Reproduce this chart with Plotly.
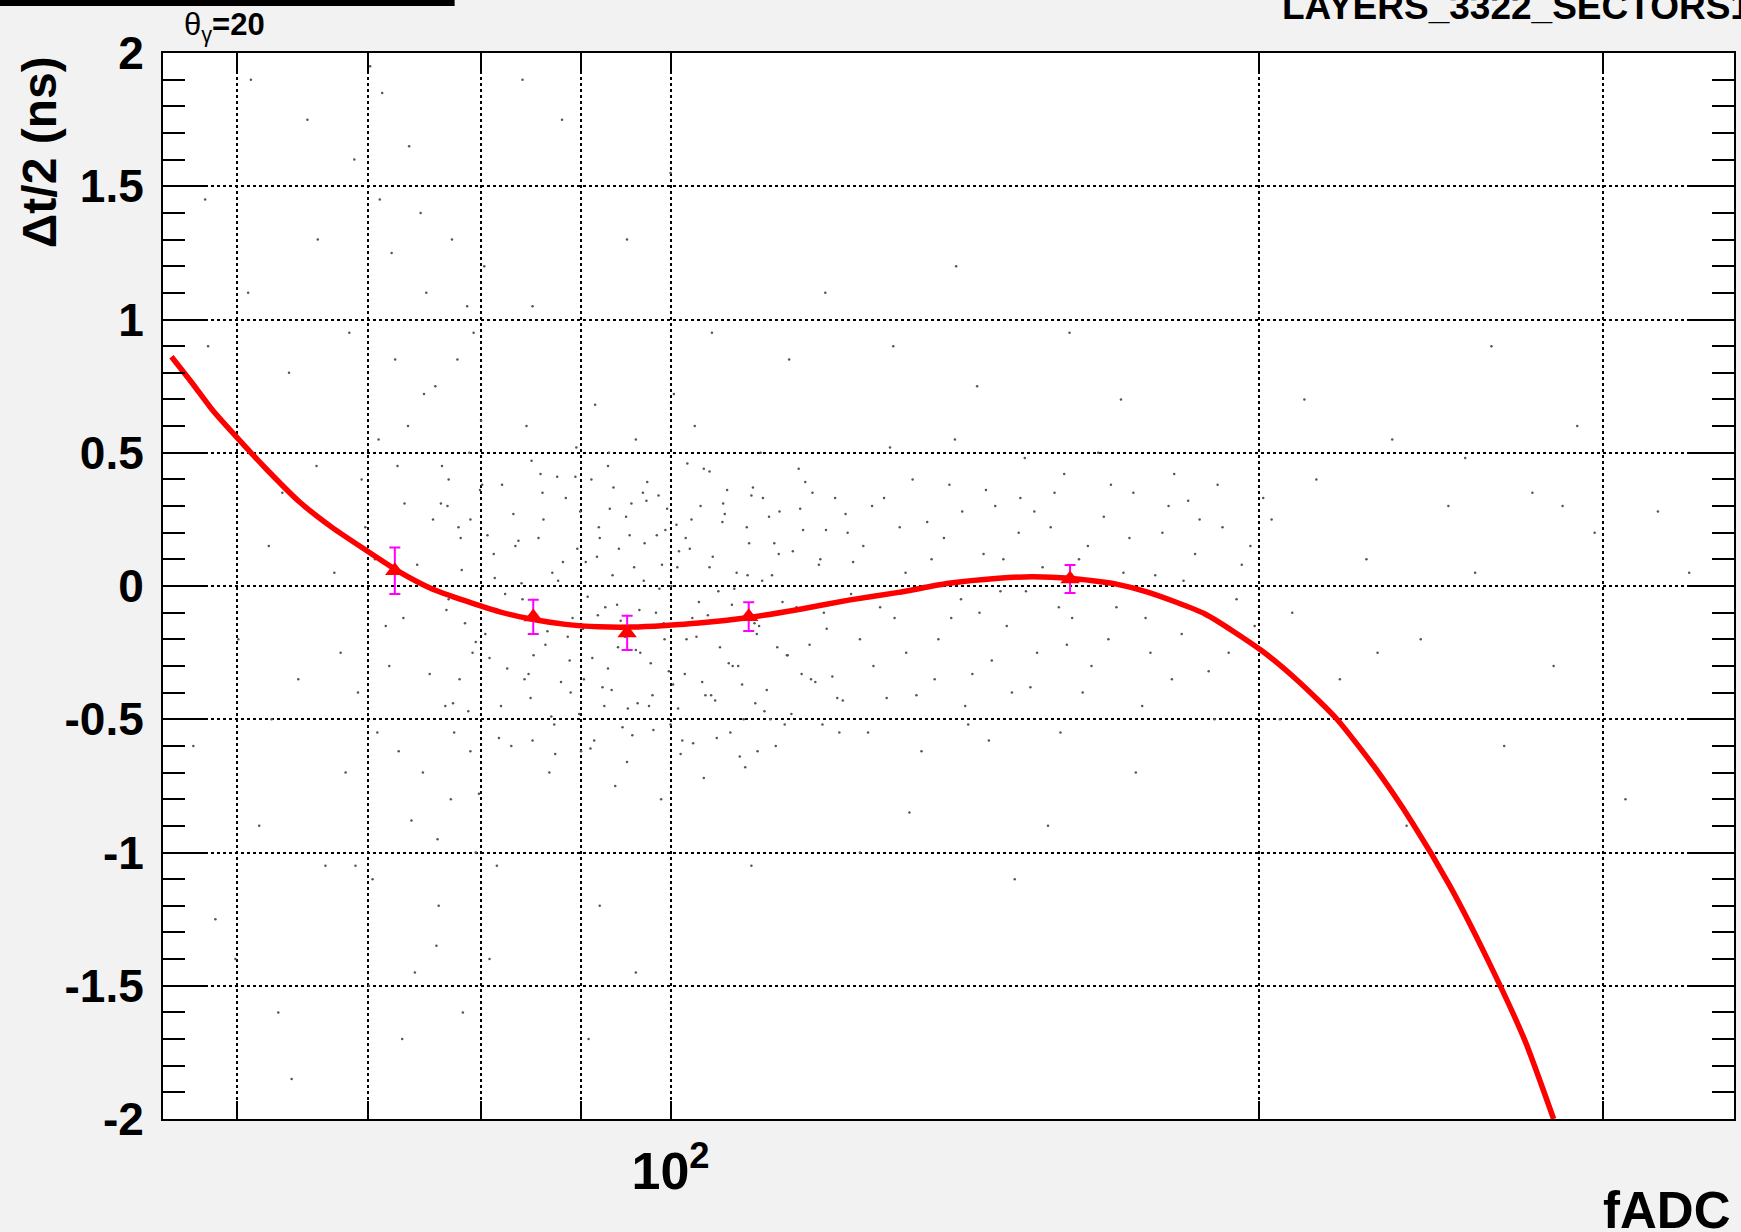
import plotly.graph_objects as go
import math

W, H = 1741, 1232
ML, MR, MT, MB = 163, 5, 53, 113

# ---- data ----
fit_x = [55.55, 56.94, 58.30, 60.16, 62.08, 64.56, 67.14, 69.83, 72.62, 75.52, 78.56,
         81.70, 84.97, 88.37, 91.91, 95.58, 99.41, 103.39, 109.65, 116.31, 123.35,
         130.83, 138.76, 147.17, 153.05, 160.14, 168.85, 175.6, 187.7, 200.6, 209.7,
         219.2, 229.2, 239.6, 250.4, 261.8, 273.6, 283.0]
fit_y = [0.860, 0.760, 0.660, 0.548, 0.441, 0.317, 0.219, 0.135, 0.054, -0.011, -0.056,
         -0.096, -0.125, -0.144, -0.153, -0.154, -0.148, -0.139, -0.118, -0.088, -0.053,
         -0.024, 0.010, 0.029, 0.035, 0.029, 0.008, -0.024, -0.105, -0.242, -0.360,
         -0.499, -0.680, -0.888, -1.124, -1.401, -1.706, -2.000]

pt_x = [72.27, 85.07, 95.02, 109.65, 160.1]
pt_y = [0.057, -0.116, -0.176, -0.115, 0.026]
pt_err = [0.087, 0.064, 0.064, 0.054, 0.0525]

dots = [
    (81.2, 0.12), (82.5, -0.31), (83.1, 0.27), (84.0, -0.05), (84.8, -0.42), (85.6, 0.18),
    (86.3, -0.22), (87.0, 0.05), (87.9, -0.36), (88.4, 0.33), (89.1, -0.12), (89.8, -0.48),
    (90.5, 0.09), (91.2, -0.27), (91.9, 0.22), (92.6, -0.08), (93.3, -0.39), (94.1, 0.14),
    (94.8, -0.19), (95.5, 0.31), (96.2, -0.44), (96.9, 0.02), (97.7, -0.29), (98.4, 0.19),
    (99.2, -0.14), (100.0, -0.52), (100.8, 0.07), (101.7, -0.33), (102.5, 0.25), (103.4, -0.06),
    (104.2, -0.41), (105.1, 0.11), (106.0, -0.23), (106.9, 0.36), (107.8, -0.01), (108.8, -0.37),
    (109.7, 0.16), (110.7, -0.18), (111.7, -0.47), (112.7, 0.04), (113.7, 0.28), (114.8, -0.26),
    (115.8, -0.09), (116.9, 0.21), (118.0, -0.35), (119.1, 0.08), (120.2, -0.16), (121.4, 0.33),
    (122.5, -0.43), (123.7, -0.03), (80.4, -0.18), (82.0, 0.38), (85.0, -0.58), (87.5, 0.41),
    (90.0, -0.62), (92.9, 0.45), (95.0, -0.66), (97.3, 0.39), (99.6, 0.29), (101.2, -0.63),
    (104.7, 0.43), (107.3, -0.55), (110.2, 0.37), (113.2, -0.60), (116.3, 0.44), (119.6, -0.52),
    (122.9, 0.27), (86.7, -0.70), (93.7, -0.75), (98.9, -0.80), (104.0, -0.72), (109.2, -0.68),
    (89.5, 0.52), (96.0, 0.55), (102.9, 0.60), (111.2, 0.50), (84.4, 0.60), (91.5, 0.68),
    (100.4, 0.72),
    (76.3, 0.31), (77.4, -0.44), (78.2, 0.06), (79.5, -0.21), (80.1, 0.38), (81.7, -0.57),
    (82.3, -0.03), (83.6, 0.17), (84.2, -0.35), (85.3, -0.12), (86.1, 0.25), (86.9, -0.49),
    (87.6, 0.02), (88.8, -0.28), (89.4, 0.41), (90.2, -0.16), (91.0, -0.61), (91.7, 0.11),
    (92.3, -0.38), (93.1, 0.29), (93.9, -0.07), (94.5, -0.53), (95.3, 0.19), (96.0, -0.24),
    (96.8, 0.35), (97.5, -0.45), (98.3, -0.10), (99.0, 0.08), (99.8, -0.32), (100.7, 0.23),
    (101.4, -0.58), (102.3, 0.14), (103.1, -0.19), (104.0, 0.44), (104.9, -0.41), (105.8, -0.02),
    (106.6, 0.27), (107.6, -0.30), (108.5, -0.64), (109.5, 0.04), (110.4, -0.14), (111.5, 0.33),
    (112.5, -0.50), (113.6, 0.12), (114.7, -0.26), (116.0, -0.08), (117.2, 0.39), (118.6, -0.36),
    (120.1, 0.21), (122.0, -0.55),
    (76.8, -0.09), (77.9, 0.22), (78.8, -0.47), (79.9, 0.36), (80.8, -0.27), (81.3, 0.03),
    (82.9, -0.60), (83.3, 0.15), (84.6, -0.33), (85.8, 0.42), (86.5, -0.17), (87.2, -0.52),
    (88.1, 0.09), (88.9, -0.40), (89.9, 0.28), (90.7, -0.04), (91.4, -0.58), (92.0, 0.18),
    (92.9, -0.31), (93.5, 0.37), (94.3, -0.13), (95.1, -0.46), (95.8, 0.07), (96.5, -0.25),
    (97.2, 0.32), (98.0, -0.54), (98.7, -0.01), (99.4, 0.21), (100.3, -0.37), (101.0, 0.13),
    (101.9, -0.20), (102.7, -0.59), (103.6, 0.30), (104.5, -0.11), (105.4, -0.43), (106.3, 0.24),
    (107.1, -0.29), (108.1, 0.05), (109.0, -0.50), (110.0, 0.34), (111.0, -0.15), (112.0, -0.39),
    (113.0, 0.16), (114.1, -0.06), (115.3, -0.48), (116.5, 0.29), (117.8, -0.22), (119.3, 0.10),
    (121.0, -0.34), (123.2, 0.20),
    (77.0, 0.40), (78.5, -0.14), (80.6, 0.19), (81.9, -0.45), (83.9, 0.01), (85.1, -0.26),
    (86.0, 0.35), (87.3, -0.63), (88.6, -0.19), (89.6, 0.14), (90.3, -0.35), (91.1, 0.40),
    (91.8, -0.11), (92.5, -0.45), (93.4, 0.04), (94.0, -0.23), (94.9, 0.26), (95.6, -0.56),
    (96.4, -0.09), (97.0, 0.16), (97.9, -0.41), (98.6, 0.34), (99.3, -0.20), (100.1, 0.00),
    (100.9, -0.46), (101.8, 0.18), (102.6, -0.12), (103.8, -0.36), (104.7, 0.07), (105.6, -0.57),
    (106.4, 0.31), (107.5, -0.07), (108.3, -0.30), (109.4, 0.22), (110.5, -0.44), (111.4, 0.02),
    (112.3, 0.26), (113.4, -0.23), (114.4, -0.52), (115.5, 0.13), (116.7, -0.33), (118.2, 0.35),
    (119.8, -0.10), (121.7, -0.42), (124.0, 0.09), (79.0, -0.62), (84.9, 0.47), (93.0, 0.50),
    (102.0, 0.46), (110.8, -0.62),
    (68.5, 0.95), (69.2, -0.40), (69.8, 0.22), (70.4, -1.10), (70.9, 0.55), (71.5, -0.15),
    (72.0, 1.25), (72.6, -0.62), (73.1, 0.31), (73.7, -0.88), (74.2, 0.08), (74.8, 0.72),
    (75.3, -0.33), (75.9, -1.35), (76.4, 0.45), (77.0, -0.05), (77.5, -0.55), (78.1, 0.18),
    (78.7, 1.05), (79.2, -0.25), (79.8, -0.78), (68.9, 1.60), (70.1, -1.50), (71.2, 1.85),
    (72.9, -1.70), (74.5, 1.40), (76.1, -1.20), (77.8, 0.85), (79.5, -1.00), (69.5, 0.40),
    (71.8, -0.30), (73.4, 0.60), (75.6, 0.25), (77.2, -0.80), (78.9, 0.50), (68.2, -0.70),
    (70.6, 0.10), (73.0, -0.12), (76.7, -0.45), (80.0, 0.62),
    (70.2, 1.95), (71.0, 1.45), (72.3, 0.85), (73.5, 1.65), (74.0, -1.45), (75.0, 1.10),
    (76.0, -0.95), (77.3, 1.30), (78.3, -1.60), (79.3, 0.95), (69.0, -1.05), (70.8, -0.55),
    (72.5, 0.45), (74.7, -0.70), (75.8, 0.75), (76.9, 0.30), (78.0, -0.35), (79.0, 0.25),
    (80.3, 1.20), (81.5, -1.05),
    (56.2, 0.30), (57.0, -0.60), (57.8, 1.45), (58.5, -1.25), (59.3, 0.60), (60.1, -0.20),
    (60.8, 1.10), (61.6, -0.90), (62.3, 0.15), (63.0, -1.60), (63.8, 0.80), (64.5, -0.35),
    (65.2, 1.75), (65.9, 0.45), (66.6, -1.05), (67.3, 0.05), (58.0, 0.90), (61.0, 1.90),
    (64.0, -1.85), (66.0, 1.30), (62.5, -0.50), (59.9, -1.40), (67.8, -0.25), (63.3, 0.35),
    (125.5, 0.15), (127.0, -0.30), (128.6, 0.33), (130.2, -0.12), (131.9, 0.05), (133.6, -0.41),
    (135.3, 0.24), (137.1, -0.20), (138.9, 0.38), (140.8, -0.05), (142.7, -0.33), (144.6, 0.12),
    (146.6, 0.30), (148.6, -0.15), (150.7, 0.20), (152.8, -0.38), (155.0, 0.07), (157.2, 0.35),
    (159.5, -0.22), (161.8, 0.10), (164.2, -0.30), (166.6, 0.26), (169.1, -0.08), (171.7, 0.18),
    (174.3, -0.45), (177.0, 0.04), (179.8, 0.30), (182.6, -0.18), (185.5, 0.12), (188.5, -0.32),
    (191.6, 0.22), (194.8, -0.05), (198.0, 0.15), (126.2, -0.55), (129.5, 0.52), (134.4, -0.62),
    (139.8, 0.55), (145.5, -0.58), (151.8, 0.48), (158.3, -0.55), (165.5, 0.50), (173.0, -0.70),
    (181.0, 0.42), (189.8, -0.50), (132.5, -0.85), (143.5, 0.75), (156.0, -0.90), (170.0, 0.70),
    (136.0, 0.10), (141.5, -0.45), (147.5, -0.02), (153.5, 0.28), (160.5, -0.12), (168.0, 0.38),
    (176.0, -0.25), (184.0, 0.32),
    (125.0, -0.20), (126.8, 0.30), (128.0, -0.08), (129.0, -0.42), (131.0, 0.22), (132.0, -0.25),
    (133.0, 0.40), (134.8, 0.00), (136.5, -0.35), (138.0, 0.18), (139.2, -0.12), (141.0, 0.28),
    (142.0, -0.52), (143.9, -0.10), (145.0, 0.36), (146.0, -0.28), (148.0, 0.10), (149.5, -0.40),
    (151.0, 0.33), (152.0, -0.02), (154.0, -0.25), (156.5, 0.22), (158.0, -0.08), (159.0, 0.42),
    (162.5, -0.40), (163.5, 0.15), (167.5, -0.20), (170.5, 0.05), (172.5, 0.35), (175.0, -0.12),
    (178.5, 0.20), (180.5, -0.35), (183.0, 0.02), (186.5, 0.25), (187.5, -0.10), (190.5, 0.38),
    (193.0, -0.25), (196.0, 0.08), (199.0, -0.15), (201.0, 0.33),
    (203, 0.25), (208, -0.10), (214, 0.40), (220, -0.35), (227, 0.10), (234, 0.55), (242, -0.20),
    (250, 0.30), (258, 0.05), (267, -0.60), (276, 0.35), (286, 0.30), (297, 0.20), (308, -0.80),
    (320, 0.28), (332, 0.05), (211, 0.70), (238, -0.90), (263, 0.90), (291, 0.60), (205, -0.50),
    (230, -0.25), (255, 0.48), (283, -0.30),
    (85, 1.05), (95, 1.30), (105, 0.95), (115, 0.85), (88, 1.75), (100, 1.55), (120, 1.10),
    (130, 0.90), (92, -1.20), (110, -1.05), (125, -1.00), (80.8, -1.40), (90.8, -1.70),
    (84, 1.90), (140, 1.20), (150, -1.10), (96, -1.45), (160, 0.95),
]
dots_x = [d[0] for d in dots]
dots_y = [d[1] for d in dots]

y_ticks = [-2, -1.5, -1, -0.5, 0, 0.5, 1, 1.5, 2]
y_ticktext = ["-2", "-1.5", "-1", "-0.5", "0", "0.5", "1", "1.5", "2"]
x_major = [100]
x_major_text = ["10<sup>2</sup>"]
x_minor = [60, 70, 80, 90, 200, 300]

FONT = "Liberation Sans, Arial, sans-serif"
PW = W - ML - MR
PH = H - MT - MB


def pxx(p):
    return (p - ML) / PW


def pxy(p):
    return (H - MB - p) / PH


fig = go.Figure()
fig.add_trace(go.Scatter(x=dots_x, y=dots_y, mode="markers",
                         marker=dict(size=2.5, color="#555555", line=dict(width=0)),
                         showlegend=False, hoverinfo="skip"))
fig.add_trace(go.Scatter(x=fit_x, y=fit_y, mode="lines",
                         line=dict(color="#ff0000", width=5.5, shape="spline", smoothing=0.6),
                         showlegend=False))
fig.add_trace(go.Scatter(x=pt_x, y=pt_y, mode="markers",
                         marker=dict(symbol="triangle-up", size=17, color="#ff0000",
                                     line=dict(width=0)),
                         error_y=dict(type="data", array=pt_err, color="#ff00ff",
                                      thickness=2, width=5.5),
                         showlegend=False))

GRID = dict(showgrid=True, gridcolor="black", gridwidth=2, griddash="3px,3px")
axis_common = dict(showline=True, linecolor="black", linewidth=2, mirror="ticks",
                   ticks="inside", tickcolor="black", tickwidth=2, zeroline=False,
                   **GRID)

fig.update_xaxes(type="log", range=[math.log10(55), math.log10(350)],
                 tickmode="array", tickvals=x_major, ticktext=x_major_text,
                 ticklen=18, ticklabelstandoff=6,
                 tickfont=dict(family=FONT, size=52, color="black", weight="bold"),
                 minor=dict(tickmode="array", tickvals=x_minor, ticks="inside", ticklen=18,
                            tickwidth=2, tickcolor="black", **GRID),
                 **axis_common)
fig.update_yaxes(range=[-2, 2], tickmode="array", tickvals=y_ticks, ticktext=y_ticktext,
                 ticklen=45, ticklabelstandoff=8,
                 tickfont=dict(family=FONT, size=46, color="black", weight="bold"),
                 minor=dict(dtick=0.1, ticks="inside", ticklen=22, tickwidth=2,
                            tickcolor="black", showgrid=False),
                 **axis_common)

annotations = [
    dict(text="<b>Δt/2 (ns)</b>", x=pxx(40), y=pxy(152), textangle=-90,
         xanchor="center", yanchor="middle",
         font=dict(family=FONT, size=48, color="black")),
    dict(text="<b>fADC</b>", x=pxx(1734), y=pxy(1210), xanchor="right", yanchor="middle",
         font=dict(family=FONT, size=51, color="black")),
    dict(text="<b>LAYERS_3322_SECTORS1</b>", x=pxx(1281), y=pxy(7), xanchor="left",
         yanchor="middle", font=dict(family=FONT, size=37, color="black")),
    dict(text="θ<sub>γ</sub><b>=20</b>", x=pxx(182), y=pxy(27), xanchor="left",
         yanchor="middle", font=dict(family=FONT, size=31, color="black")),
]
for a in annotations:
    a.update(xref="paper", yref="paper", showarrow=False)

fig.update_layout(
    width=W, height=H,
    margin=dict(l=ML, r=MR, t=MT, b=MB, pad=0),
    paper_bgcolor="#f2f2f2", plot_bgcolor="white",
    font=dict(family=FONT, color="black"),
    annotations=annotations,
    shapes=[dict(type="rect", xref="paper", yref="paper",
                 x0=pxx(-2), x1=pxx(455), y0=pxy(6), y1=pxy(-5),
                 fillcolor="black", line=dict(width=0), layer="above")],
)

fig.write_html("out.html", config={"displayModeBar": False},
               post_script="document.body.style.margin='0px';document.body.style.overflow='hidden';")
